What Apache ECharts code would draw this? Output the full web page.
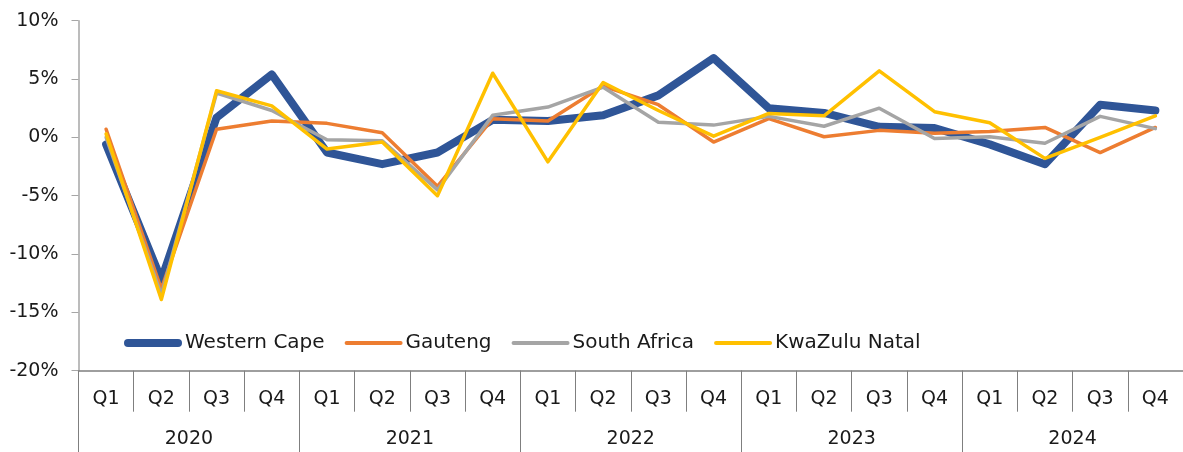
<!DOCTYPE html>
<html>
<head>
<meta charset="utf-8">
<script src="https://cdn.jsdelivr.net/npm/echarts@6/dist/echarts.min.js"></script>
<style>
html,body{margin:0;padding:0;background:#fff;}
#chart{width:1183px;height:452px;}
</style>
</head>
<body>
<div id="chart"></div>
<script>
const quarters = ['Q1','Q2','Q3','Q4','Q1','Q2','Q3','Q4','Q1','Q2','Q3','Q4','Q1','Q2','Q3','Q4','Q1','Q2','Q3','Q4'];
const years = ['2020','2021','2022','2023','2024'];
const yTicks = {min: -20, max: 10, interval: 5};

const westernCape = [-0.6, -12.2, 1.7, 5.4, -1.3, -2.3, -1.3, 1.5, 1.4, 1.9, 3.6, 6.8, 2.5, 2.1, 0.9, 0.8, -0.6, -2.3, 2.8, 2.3];
const gauteng     = [0.7, -13.0, 0.7, 1.4, 1.2, 0.4, -4.2, 1.6, 1.4, 4.4, 2.8, -0.4, 1.6, 0.05, 0.6, 0.35, 0.5, 0.85, -1.3, 0.85];
const southAfrica = [0.0, -13.5, 3.8, 2.3, -0.2, -0.3, -4.5, 1.9, 2.6, 4.3, 1.3, 1.05, 1.8, 0.95, 2.5, -0.1, 0.05, -0.5, 1.8, 0.75];
const kwaZulu     = [0.3, -13.9, 4.0, 2.7, -1.0, -0.4, -5.0, 5.5, -2.1, 4.7, 2.3, 0.1, 2.05, 1.85, 5.7, 2.2, 1.25, -1.8, 0.0, 1.85];

const seriesNames = ['Western Cape','Gauteng','South Africa','KwaZulu Natal'];
const seriesData = [westernCape, gauteng, southAfrica, kwaZulu];
const colors = ['#2F5597','#ED7D31','#A5A5A5','#FFC000'];
const widths = [8, 3.5, 3.5, 3.5];

const FONT = '"DejaVu Sans", sans-serif';
const TXT = '#1a1a1a';

const thickIcon = 'path://M4,0 L54,0 A4,4 0 0 1 54,8 L4,8 A4,4 0 0 1 4,0 Z';
const thinIcon = 'path://M2,0 L56,0 A2,2 0 0 1 56,4 L2,4 A2,2 0 0 1 2,0 Z';

const chart = echarts.init(document.getElementById('chart'), null, {renderer: 'canvas'});
chart.setOption({
  animation: false,
  backgroundColor: '#fff',
  color: colors,
  textStyle: {fontFamily: FONT, color: TXT},
  grid: {left: 78.5, right: -5.5, top: 20.7, bottom: 81.3, containLabel: false},
  legend: {
    left: 119, top: 328,
    itemWidth: 58, itemHeight: 8, itemGap: 20,
    textStyle: {fontFamily: FONT, fontSize: 20, color: TXT, padding: [0, 0, 0, -2]},
    data: seriesNames.map((n, i) => ({name: n, icon: i === 0 ? thickIcon : thinIcon, itemStyle: {color: colors[i]}}))
  },
  xAxis: [
    {
      type: 'category', data: quarters, position: 'bottom', boundaryGap: true,
      axisLine: {show: true, onZero: false, lineStyle: {color: '#7f7f7f', width: 1.5}},
      axisTick: {show: true, interval: 0, length: 41, lineStyle: {color: '#7f7f7f', width: 1}},
      axisLabel: {interval: 0, margin: 19, fontFamily: FONT, fontSize: 19, color: TXT},
      splitLine: {show: false}
    },
    {
      type: 'category', data: years, position: 'bottom', boundaryGap: true,
      axisLine: {show: false, onZero: false},
      axisTick: {show: true, interval: 0, length: 82, lineStyle: {color: '#7f7f7f', width: 1}},
      axisLabel: {interval: 0, margin: 59, fontFamily: FONT, fontSize: 19, color: TXT},
      splitLine: {show: false}
    }
  ],
  yAxis: {
    type: 'value', min: yTicks.min, max: yTicks.max, interval: yTicks.interval,
    axisLine: {show: true, lineStyle: {color: '#a6a6a6', width: 1.5}},
    axisTick: {show: true, length: 7, lineStyle: {color: '#a6a6a6'}},
    axisLabel: {formatter: '{value}%', margin: 20, fontFamily: FONT, fontSize: 19, color: TXT},
    splitLine: {show: false}
  },
  series: seriesNames.map((n, i) => ({
    name: n, type: 'line', xAxisIndex: 0, data: seriesData[i],
    symbol: 'none', smooth: false,
    lineStyle: {color: colors[i], width: widths[i], cap: 'round', join: 'round'},
    itemStyle: {color: colors[i]},
    emphasis: {disabled: true}
  }))
});
</script>
</body>
</html>
